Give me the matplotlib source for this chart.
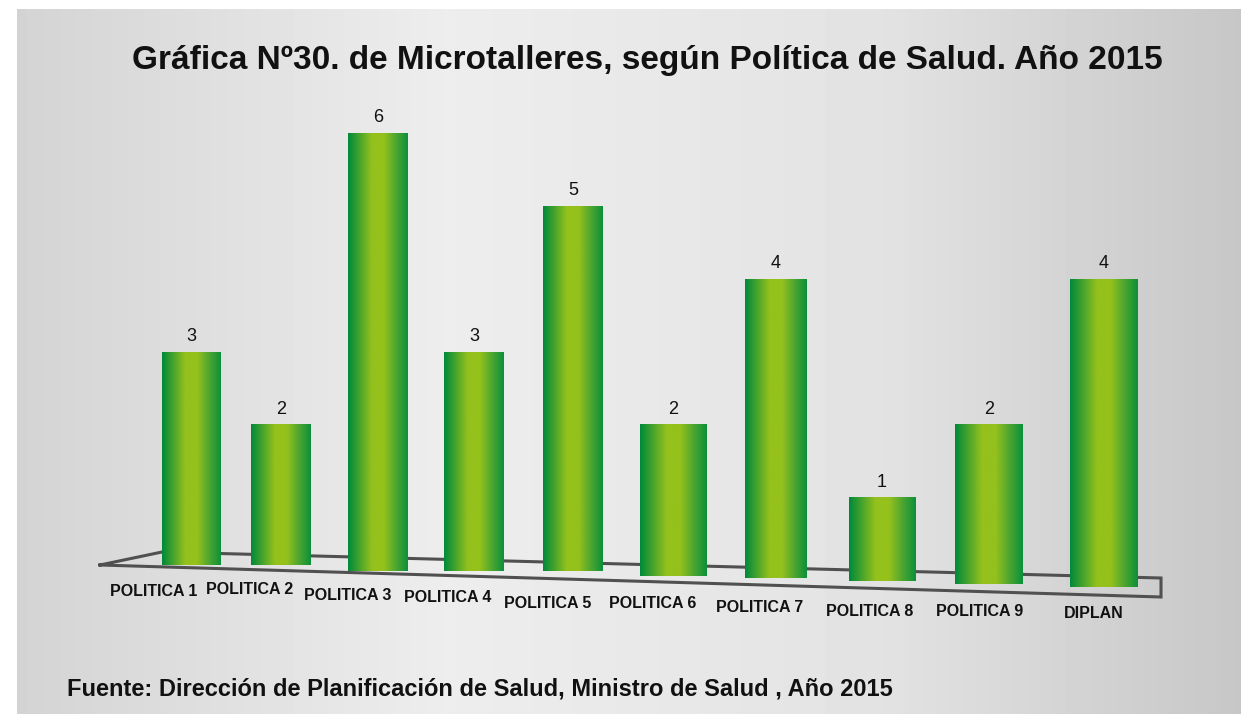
import numpy as np
import matplotlib.pyplot as plt
from matplotlib.colors import LinearSegmentedColormap

plt.rcParams['font.family'] = ['Liberation Sans', 'DejaVu Sans']

# Datos
categorias = ['POLITICA 1', 'POLITICA 2', 'POLITICA 3', 'POLITICA 4', 'POLITICA 5',
              'POLITICA 6', 'POLITICA 7', 'POLITICA 8', 'POLITICA 9', 'DIPLAN']
microtalleres = [3, 2, 6, 3, 5, 2, 4, 1, 2, 4]

titulo = 'Gráfica Nº30. de Microtalleres, según Política de Salud. Año 2015'
fuente = 'Fuente: Dirección de Planificación de Salud, Ministro de Salud , Año 2015'

# Disposición en perspectiva (px): centros, anchos, base de cada barra y etiquetas
centros = [191, 281, 378, 474, 573, 673, 776, 882, 989, 1104]
anchos = [59, 60, 60, 60, 60, 67, 62, 67, 68, 68]
base_px = [565, 565, 571, 571, 571, 576, 578, 581, 584, 587]
etiq_x = [154, 250, 348, 448, 548, 653, 760, 870, 980, 1094]
etiq_y = [591, 590, 596, 598, 603, 604, 607, 612, 612, 614]

W, H = 1241, 714
Y0, ESC = 570.3, 72.9  # pixel del valor 0 y px por unidad


def py(y):
    return (Y0 - y) / ESC


fig = plt.figure(figsize=(W / 100, H / 100), dpi=100)
ax = fig.add_axes([0, 0, 1, 1])
ax.set_xlim(0, W)
ax.set_ylim(py(H), py(0))
ax.axis('off')

# Fondo gris con degradado horizontal
xs = np.linspace(0, 1, 400)
gris = np.interp(xs, [0, 0.35, 0.7, 1], [0.83, 0.93, 0.89, 0.78])
fondo = np.tile(gris, (2, 1))
ax.imshow(fondo, cmap='gray', vmin=0, vmax=1, aspect='auto',
          extent=[17, W, py(H), py(9)], zorder=0, interpolation='bilinear')

# Piso en perspectiva
piso_x = [100, 162, 1161, 1161, 100]
piso_y = [565, 552, 578, 597, 565]
ax.plot(piso_x, [py(v) for v in piso_y], color='#505050', lw=2.2, zorder=1,
        solid_joinstyle='miter')

# Barras con degradado verde
verde = LinearSegmentedColormap.from_list(
    'verde', ['#008a3a', '#4aa52c', '#95c11c', '#95c11c', '#4ea630', '#0c9139'])
grad = np.linspace(0, 1, 200).reshape(1, -1)
bases = [py(b) for b in base_px]
alturas = [v - b for v, b in zip(microtalleres, bases)]
barras = ax.bar(centros, alturas, width=anchos, bottom=bases,
                color='none', edgecolor='none', zorder=2)
for rect, x, w, b, v in zip(barras, centros, anchos, bases, microtalleres):
    im = ax.imshow(grad, cmap=verde, aspect='auto', interpolation='bilinear',
                   extent=[x - w / 2, x + w / 2, b, v], zorder=2)
    im.set_clip_path(rect)
    ax.text(x, v + 0.09, str(v), ha='center', va='bottom', fontsize=13,
            color='#111111', zorder=3)

# Etiquetas de categorías
for nombre, x, y in zip(categorias, etiq_x, etiq_y):
    ax.text(x, py(y), nombre, ha='center', va='center', fontsize=11.5,
            fontweight='bold', color='#111111', zorder=3)

ax.text(647, py(60), titulo, ha='center', va='center', fontsize=24,
        fontweight='bold', color='#111111', zorder=3)
ax.text(67, py(689), fuente, ha='left', va='center', fontsize=17,
        fontweight='bold', color='#111111', zorder=3)

ax.set_xlim(0, W)
ax.set_ylim(py(H), py(0))
fig.savefig('out.png', dpi=100, facecolor='white')
